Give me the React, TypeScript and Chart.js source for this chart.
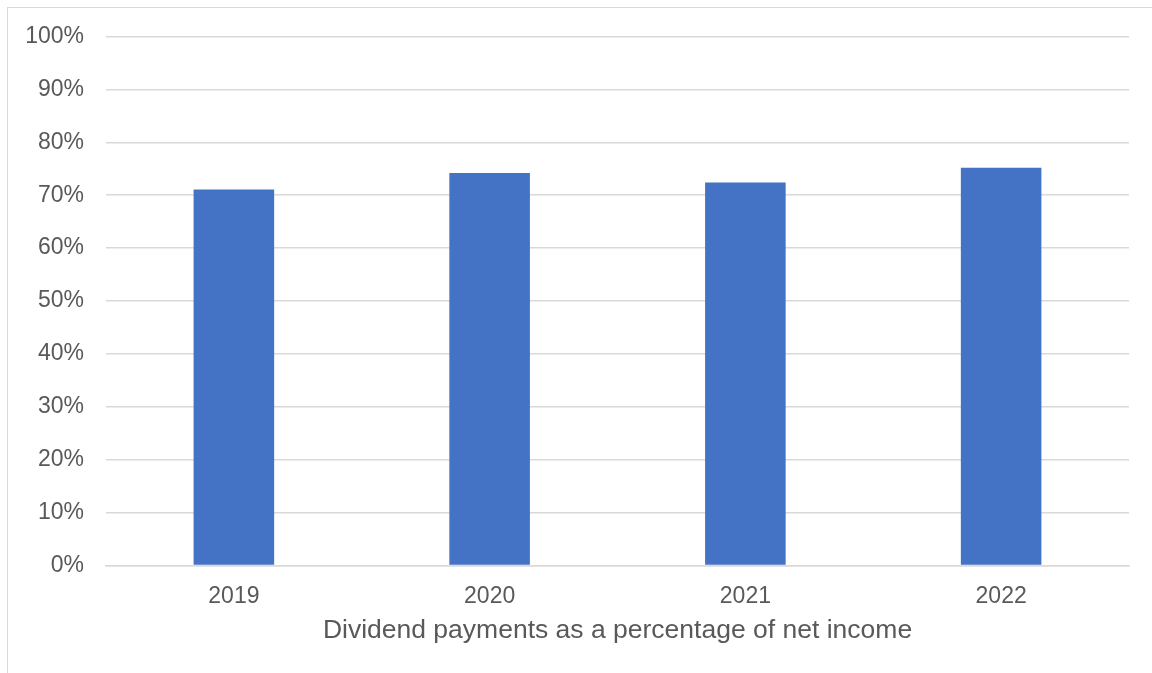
import React, { useEffect, useRef } from "react";
import { Chart, registerables } from "chart.js";

Chart.register(...registerables);

const categories = ["2019", "2020", "2021", "2022"];
const payoutRatios = [0.711, 0.742, 0.724, 0.752];
const axisTitle = "Dividend payments as a percentage of net income";

const FONT = "Arial, 'Liberation Sans', sans-serif";
const TEXT = "#595959";

export default function App() {
  const ref = useRef<HTMLCanvasElement | null>(null);

  useEffect(() => {
    if (!ref.current) return;
    const chart = new Chart(ref.current, {
      type: "bar",
      data: {
        labels: categories,
        datasets: [
          {
            label: "Payout",
            data: payoutRatios,
            backgroundColor: "#4472C4",
            borderWidth: 0,
            barPercentage: 0.315,
            categoryPercentage: 1,
          },
        ],
      },
      options: {
        animation: false,
        responsive: false,
        maintainAspectRatio: false,
        layout: { padding: { top: 36.5, right: 23, bottom: 0, left: 0 } },
        plugins: {
          legend: { display: false },
          tooltip: { enabled: false },
        },
        scales: {
          x: {
            grid: { display: false, drawTicks: false },
            border: { display: true, color: "#d9d9d9", width: 1.5 },
            ticks: {
              color: TEXT,
              font: { family: FONT, size: 23 },
              padding: 17,
            },
            title: {
              display: true,
              text: axisTitle,
              color: TEXT,
              font: { family: FONT, size: 26.5 },
              padding: { top: 0, bottom: 26 },
            },
            afterFit: (s: any) => {
              s.height = 107.5;
            },
          },
          y: {
            min: 0,
            max: 1,
            grid: { color: "#d9d9d9", lineWidth: 1.5, drawTicks: false },
            border: { display: false },
            ticks: {
              stepSize: 0.1,
              color: TEXT,
              font: { family: FONT, size: 23 },
              padding: 22,
              callback: (v: any) => Math.round(Number(v) * 100) + "%",
            },
            afterFit: (s: any) => {
              s.width = 106;
            },
          },
        },
      },
    });
    return () => chart.destroy();
  }, []);

  return (
    <div
      style={{
        position: "fixed",
        left: 0,
        top: 0,
        width: 1152,
        height: 673,
        overflow: "hidden",
        background: "#fff",
      }}
    >
      <div
        style={{
          position: "absolute",
          left: 7,
          top: 7,
          width: 1300,
          height: 800,
          borderLeft: "1px solid #d9d9d9",
          borderTop: "1px solid #d9d9d9",
        }}
      />
      <canvas
        ref={ref}
        width={1152}
        height={673}
        style={{ position: "absolute", left: 0, top: 0, width: 1152, height: 673 }}
      />
    </div>
  );
}
